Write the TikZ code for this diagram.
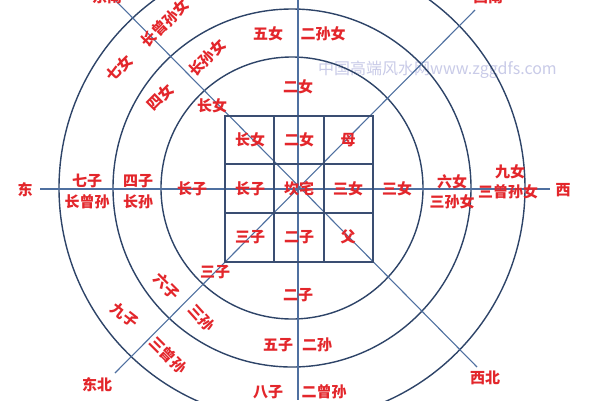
\documentclass[tikz,border=0pt]{standalone}
\usepackage{fontspec}
\newfontfamily\cjk{Noto Sans CJK SC}
\definecolor{labred}{HTML}{E3262B}
\definecolor{circblue}{HTML}{2E4468}
\definecolor{rayblue}{HTML}{4F70A0}
\definecolor{gridblue}{HTML}{3A4E72}
\definecolor{wm}{HTML}{C9CBE8}
\begin{document}
\begin{tikzpicture}[x=1pt,y=-1pt,
  lab/.style={text=labred,font=\cjk\bfseries\fontsize{15}{15}\selectfont,inner sep=0pt},
  circ/.style={draw=circblue,line width=1.4pt},
  ray/.style={draw=rayblue,line width=1.1pt},
  gridl/.style={draw=gridblue,line width=1.4pt}]
\useasboundingbox (0,0) rectangle (600,400);
\clip (0,0) rectangle (600,400);
\fill[white] (0,0) rectangle (600,400);
\coordinate (O) at (292,188);
% watermark
\node[text=wm,font=\cjk\fontsize{16}{16}\selectfont,inner sep=0pt,anchor=west] (wmk) at (318,70) {中国高端风水网www.zggdfs.com};
% circles
\draw[circ] (O) circle[radius=131pt];
\draw[circ] (O) circle[radius=179pt];
\draw[circ] (O) circle[radius=233pt];
% rays
\coordinate (tl) at (115,0);
\coordinate (br) at (477,367);
\coordinate (tr) at (475,10);
\coordinate (bl) at (115,373);
\coordinate (le) at (40,189);
\coordinate (ri) at (550,189);
\coordinate (up) at (298,0);
\coordinate (dn) at (298,400);
\draw[ray] (tl) -- (br);
\draw[ray] (tr) -- (bl);
\draw[ray] (le) -- (ri);
\draw[ray] (up) -- (dn);
% grid
\draw[gridl] (225,116) rectangle (373,262);
\draw[gridl] (274,116) -- (274,262);
\draw[gridl] (324,116) -- (324,262);
\draw[gridl] (225,164) -- (373,164);
\draw[gridl] (225,213) -- (373,213);
% grid labels
\node[lab] (g11) at (250,140) {长女};
\node[lab] (g12) at (299,140) {二女};
\node[lab] (g13) at (348,140) {母};
\node[lab] (g21) at (250,189) {长子};
\node[lab] (g22) at (299,189) {坎宅};
\node[lab] (g23) at (348,189) {三女};
\node[lab] (g31) at (250,237) {三子};
\node[lab] (g32) at (299,237) {二子};
\node[lab] (g33) at (348,237) {父};
% directions
\node[lab] (dE) at (25,190) {东};
\node[lab] (dW) at (563,190) {西};
\node[lab] (dSE) at (107,-3) {东南};
\node[lab] (dSW) at (488,-3) {西南};
\node[lab] (dNE) at (97,385) {东北};
\node[lab] (dNW) at (485,378) {西北};
% top
\node[lab] (t1) at (298,87) {二女};
\node[lab] (t2) at (268,34) {五女};
\node[lab] (t3) at (323,34) {二孙女};
% top-left
\node[lab] (a1) at (212,106) {长女};
\node[lab,rotate=45] (a2) at (160,97) {四女};
\node[lab,rotate=45] (a3) at (207,58) {长孙女};
\node[lab,rotate=45] (a4) at (119,68) {七女};
\node[lab,rotate=45] (a5) at (165,23) {长曾孙女};
% left
\node[lab] (l1) at (192,189) {长子};
\node[lab] (l2) at (138,181) {四子};
\node[lab] (l3) at (138,202) {长孙};
\node[lab] (l4) at (87,181) {七子};
\node[lab] (l5) at (87,202) {长曾孙};
% right
\node[lab] (r1) at (397,189) {三女};
\node[lab] (r2) at (452,182) {六女};
\node[lab] (r3) at (452,202) {三孙女};
\node[lab] (r4) at (510,172) {九女};
\node[lab] (r5) at (508,192) {三曾孙女};
% bottom-left
\node[lab] (b1) at (215,272) {三子};
\node[lab,rotate=-45] (b2) at (167,286) {六子};
\node[lab,rotate=-48] (b3) at (202,318) {三孙};
\node[lab,rotate=-38] (b4) at (125,315) {九子};
\node[lab,rotate=-45] (b5) at (168,355) {三曾孙};
% bottom
\node[lab] (d1) at (298,295) {二子};
\node[lab] (d2) at (278,345) {五子};
\node[lab] (d3) at (317,345) {二孙};
\node[lab] (d4) at (268,392) {八子};
\node[lab] (d5) at (324,392) {二曾孙};
\end{tikzpicture}
\end{document}
